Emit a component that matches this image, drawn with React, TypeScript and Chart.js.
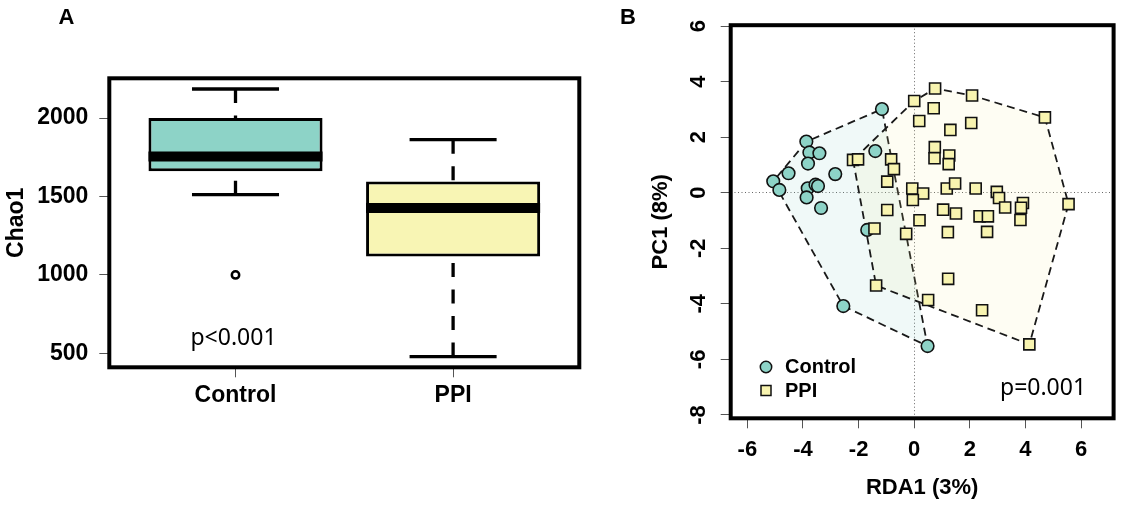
import React, { useEffect, useRef } from 'react';
import { Chart, registerables } from 'chart.js';

Chart.register(...registerables);

const FONT = "'Liberation Sans', Arial, Helvetica, sans-serif";
const PFONT = "'Noto Sans', 'Open Sans', sans-serif";

// ---------- Panel A: Chao1 boxplot ----------
const GROUPS = ['Control', 'PPI'];
const CHAO1_MIN = [1511, 479];
const CHAO1_Q1 = [1660, 1117];
const CHAO1_MEDIAN = [1755, 1426];
const CHAO1_Q3 = [2000, 1596];
const CHAO1_MAX = [2185, 1862];
const CHAO1_OUTLIERS = [[1000], []];
const CHAO1_TICKS = [500, 1000, 1500, 2000];
const CHAO1_RANGE = [410.8, 2253.2];
const GROUP_RANGE = [0.42, 2.58];
const BOX_COLORS = ['#8dd3c7', '#f8f5b4'];

// ---------- Panel B: RDA ordination ----------
const CTRL_X = [-1.16, -3.88, -3.77, -3.41, -3.82, -4.52, -2.84, -5.07, -4.85, -3.83, -3.55, -3.46, -3.87, -3.35, -1.40, -1.69, -2.55, 0.48];
const CTRL_Y = [3.01, 1.84, 1.45, 1.42, 1.05, 0.70, 0.67, 0.41, 0.10, 0.16, 0.29, 0.24, -0.17, -0.55, 1.50, -1.34, -4.08, -5.52];
const PPI_X = [0.75, 2.08, 0.00, 0.70, 4.70, 0.18, 2.05, 1.30, 0.74, 0.73, 1.26, 1.24, -2.20, -2.02, -0.83, -0.73, -0.97, -0.07, 0.32, -0.05, 1.17, 1.47, 2.21, 2.97, 3.05, 3.27, 3.91, 3.84, 3.82, 5.55, -0.97, 1.04, 1.50, 2.35, 2.65, 0.19, -0.29, 1.21, 2.62, -1.43, 1.22, -1.37, 0.50, 2.44, 4.14];
const PPI_Y = [3.75, 3.50, 3.30, 3.04, 2.71, 2.58, 2.51, 2.26, 1.64, 1.24, 1.34, 1.03, 1.18, 1.20, 1.20, 0.85, 0.40, 0.15, -0.03, -0.26, 0.15, 0.33, 0.15, 0.03, -0.19, -0.53, -0.37, -0.54, -0.98, -0.41, -0.62, -0.61, -0.75, -0.85, -0.85, -0.99, -1.48, -1.42, -1.41, -1.29, -3.10, -3.34, -3.86, -4.23, -5.46];
const RDA_TICKS = [-6, -4, -2, 0, 2, 4, 6];
const PC_TICKS = [-8, -6, -4, -2, 0, 2, 4, 6];
const RDA_RANGE = [-6.6, 7.17];
const PC_RANGE = [-8.12, 6.03];
const CTRL_COLOR = '#8dd3c7';
const PPI_COLOR = '#f8f4b0';

type P = { x: number; y: number };

function toPoints(xs: number[], ys: number[]): P[] {
  return xs.map((x, i) => ({ x, y: ys[i] }));
}

function convexHull(xs: number[], ys: number[]): P[] {
  const pts = toPoints(xs, ys).sort((a, b) => a.x - b.x || a.y - b.y);
  const cross = (o: P, a: P, b: P) => (a.x - o.x) * (b.y - o.y) - (a.y - o.y) * (b.x - o.x);
  const lower: P[] = [];
  for (const p of pts) {
    while (lower.length >= 2 && cross(lower[lower.length - 2], lower[lower.length - 1], p) <= 0) lower.pop();
    lower.push(p);
  }
  const upper: P[] = [];
  for (const p of pts.slice().reverse()) {
    while (upper.length >= 2 && cross(upper[upper.length - 2], upper[upper.length - 1], p) <= 0) upper.pop();
    upper.push(p);
  }
  lower.pop();
  upper.pop();
  const hull = lower.concat(upper);
  return [...hull, { ...hull[0] }];
}

const tickFont = (size: number) => ({ family: FONT, size, weight: 'bold' as const });

const boxBorderPlugin = {
  id: 'boxBorder',
  afterDraw(chart: any) {
    const { ctx, chartArea: a } = chart;
    ctx.save();
    ctx.strokeStyle = '#000';
    ctx.lineWidth = 4;
    ctx.lineJoin = 'miter';
    ctx.strokeRect(a.left, a.top, a.right - a.left, a.bottom - a.top);
    ctx.restore();
  },
};

function PanelA() {
  const ref = useRef<HTMLCanvasElement>(null);
  useEffect(() => {
    const datasets: any[] = [];
    GROUPS.forEach((_, i) => {
      const c = i + 1;
      datasets.push({
        type: 'line',
        data: [{ x: c, y: CHAO1_MAX[i] }, { x: c, y: CHAO1_Q3[i] }],
        borderColor: '#000', borderWidth: 3.3, borderDash: [14, 12.5], borderCapStyle: 'butt',
        pointRadius: 0, fill: false, order: 5,
      });
      datasets.push({
        type: 'line',
        data: [{ x: c, y: CHAO1_MIN[i] }, { x: c, y: CHAO1_Q1[i] }],
        borderColor: '#000', borderWidth: 3.3, borderDash: [14, 12.5], borderCapStyle: 'butt',
        pointRadius: 0, fill: false, order: 5,
      });
      datasets.push({
        type: 'line',
        data: [{ x: c - 0.2, y: CHAO1_MAX[i] }, { x: c + 0.2, y: CHAO1_MAX[i] }],
        borderColor: '#000', borderWidth: 3.3, borderCapStyle: 'butt', pointRadius: 0, fill: false, order: 5,
      });
      datasets.push({
        type: 'line',
        data: [{ x: c - 0.2, y: CHAO1_MIN[i] }, { x: c + 0.2, y: CHAO1_MIN[i] }],
        borderColor: '#000', borderWidth: 3.3, borderCapStyle: 'butt', pointRadius: 0, fill: false, order: 5,
      });
      datasets.push({
        type: 'line',
        data: [{ x: c - 0.4, y: CHAO1_MEDIAN[i] }, { x: c + 0.4, y: CHAO1_MEDIAN[i] }],
        borderColor: '#000', borderWidth: 10, borderCapStyle: 'butt', pointRadius: 0, fill: false, order: 0,
      });
    });
    datasets.push({
      type: 'bar',
      data: GROUPS.map((_, i) => ({ x: i + 1, y: [CHAO1_Q1[i], CHAO1_Q3[i]] })),
      backgroundColor: BOX_COLORS,
      borderColor: '#000',
      borderWidth: 3,
      borderSkipped: false,
      categoryPercentage: 0.8,
      barPercentage: 1.0,
      order: 2,
    });
    datasets.push({
      type: 'scatter',
      data: CHAO1_OUTLIERS.flatMap((vals, i) => vals.map((v) => ({ x: i + 1, y: v }))),
      pointStyle: 'circle', pointRadius: 3.7, borderWidth: 2.5,
      borderColor: '#000', backgroundColor: '#fff', order: 1,
    });

    const annot = {
      id: 'annotA',
      afterDraw(chart: any) {
        const { ctx } = chart;
        ctx.save();
        ctx.fillStyle = '#000';
        ctx.textAlign = 'center';
        ctx.textBaseline = 'alphabetic';
        ctx.font = `bold 22px ${FONT}`;
        ctx.fillText('A', 66.5, 24);
        ctx.font = `23px ${PFONT}`;
        ctx.fillText('p<0.001', chart.scales.x.getPixelForValue(1) - 2, 345);
        ctx.restore();
      },
    };

    const chart = new Chart(ref.current!, {
      type: 'scatter',
      data: { datasets },
      options: {
        animation: false,
        responsive: false,
        events: [],
        layout: { padding: { left: 0, top: 78.3, right: 20.7, bottom: 0 } },
        plugins: { legend: { display: false }, tooltip: { enabled: false } },
        scales: {
          x: {
            type: 'linear',
            offset: false,
            min: GROUP_RANGE[0],
            max: GROUP_RANGE[1],
            afterBuildTicks: (s: any) => { s.ticks = GROUPS.map((_, i) => ({ value: i + 1 })); },
            afterFit: (s: any) => { s.height = 505 - 367.3; },
            ticks: {
              callback: (v: any) => GROUPS[Math.round(v) - 1] ?? '',
              font: tickFont(23), color: '#000', padding: 5, maxRotation: 0, autoSkip: false,
            },
            grid: { offset: false, drawOnChartArea: false, drawTicks: true, tickLength: 10, tickColor: '#555', tickWidth: 1 },
            border: { display: false },
          },
          y: {
            type: 'linear',
            min: CHAO1_RANGE[0],
            max: CHAO1_RANGE[1],
            afterBuildTicks: (s: any) => { s.ticks = CHAO1_TICKS.map((v) => ({ value: v })); },
            afterFit: (s: any) => { s.width = 109.3; },
            ticks: { callback: (v: any) => String(v), font: tickFont(23), color: '#000', padding: 11, autoSkip: false },
            grid: { drawOnChartArea: false, drawTicks: true, tickLength: 10, tickColor: '#555', tickWidth: 1 },
            border: { display: false },
            title: { display: true, text: 'Chao1', font: tickFont(23), color: '#000', padding: { top: 3, bottom: 0 } },
          },
        },
      } as any,
      plugins: [boxBorderPlugin, annot],
    });
    return () => chart.destroy();
  }, []);
  return (
    <canvas ref={ref} width={600} height={505}
      style={{ position: 'absolute', left: 0, top: 0, width: 600, height: 505 }} />
  );
}

function PanelB() {
  const ref = useRef<HTMLCanvasElement>(null);
  useEffect(() => {
    const ctrlPts = toPoints(CTRL_X, CTRL_Y);
    const ppiPts = toPoints(PPI_X, PPI_Y);
    const datasets: any[] = [
      {
        type: 'line', data: convexHull(CTRL_X, CTRL_Y),
        borderColor: '#1a1a1a', borderWidth: 1.8, borderDash: [8, 5], tension: 0,
        fill: 'shape', backgroundColor: 'rgba(141,211,199,0.13)', pointRadius: 0, order: 4,
      },
      {
        type: 'line', data: convexHull(PPI_X, PPI_Y),
        borderColor: '#1a1a1a', borderWidth: 1.8, borderDash: [8, 5], tension: 0,
        fill: 'shape', backgroundColor: 'rgba(250,240,160,0.12)', pointRadius: 0, order: 3,
      },
      {
        type: 'scatter', data: ctrlPts, pointStyle: 'circle', pointRadius: 6.3,
        backgroundColor: CTRL_COLOR, borderColor: '#111', borderWidth: 1.6, order: 2,
      },
      {
        type: 'scatter', data: ppiPts, pointStyle: 'rect', pointRadius: 7.8,
        backgroundColor: PPI_COLOR, borderColor: '#111', borderWidth: 1.6, order: 1,
      },
    ];

    const annot = {
      id: 'annotB',
      afterDraw(chart: any) {
        const { ctx } = chart;
        ctx.save();
        ctx.fillStyle = '#000';
        ctx.textAlign = 'center';
        ctx.textBaseline = 'alphabetic';
        ctx.font = `bold 22px ${FONT}`;
        ctx.fillText('B', 28, 24);
        // legend
        ctx.lineWidth = 1.5;
        ctx.strokeStyle = '#111';
        ctx.beginPath();
        ctx.arc(166, 367, 5.7, 0, Math.PI * 2);
        ctx.fillStyle = CTRL_COLOR;
        ctx.fill();
        ctx.stroke();
        ctx.fillStyle = PPI_COLOR;
        ctx.fillRect(161, 385.5, 10, 10);
        ctx.strokeRect(161, 385.5, 10, 10);
        ctx.fillStyle = '#000';
        ctx.textAlign = 'left';
        ctx.textBaseline = 'middle';
        ctx.font = `bold 20px ${FONT}`;
        ctx.fillText(GROUPS[0], 185, 367);
        ctx.fillText(GROUPS[1], 185, 391);
        ctx.textBaseline = 'alphabetic';
        ctx.font = `23px ${PFONT}`;
        ctx.fillText('p=0.001', 400, 395);
        ctx.restore();
      },
    };

    const zeroGrid = (c: any) => (c.tick && c.tick.value === 0 ? '#666' : 'rgba(0,0,0,0)');

    const chart = new Chart(ref.current!, {
      type: 'scatter',
      data: { datasets },
      options: {
        animation: false,
        responsive: false,
        events: [],
        layout: { padding: { left: 0, top: 19.3, right: 4, bottom: 0 } },
        plugins: { legend: { display: false }, tooltip: { enabled: false } },
        scales: {
          x: {
            type: 'linear',
            min: RDA_RANGE[0],
            max: RDA_RANGE[1],
            afterBuildTicks: (s: any) => { s.ticks = RDA_TICKS.map((v) => ({ value: v })); },
            afterFit: (s: any) => { s.height = 505 - 418.3; },
            ticks: { font: tickFont(22), color: '#000', padding: 8, maxRotation: 0, autoSkip: false },
            grid: {
              color: zeroGrid, lineWidth: 1, drawOnChartArea: true, drawTicks: true,
              tickLength: 10, tickColor: '#555', tickWidth: 1, tickBorderDash: [100, 0],
            },
            border: { display: false, dash: [1, 2.5] },
            title: { display: true, text: 'RDA1 (3%)', font: tickFont(22), color: '#000', padding: { top: 0, bottom: 4 } },
          },
          y: {
            type: 'linear',
            min: PC_RANGE[0],
            max: PC_RANGE[1],
            afterBuildTicks: (s: any) => { s.ticks = PC_TICKS.map((v) => ({ value: v })); },
            afterFit: (s: any) => { s.width = 130.7; },
            ticks: {
              font: tickFont(22), color: '#000', padding: 12, autoSkip: false,
              minRotation: 90, maxRotation: 90, crossAlign: 'center',
            },
            grid: {
              color: zeroGrid, lineWidth: 1, drawOnChartArea: true, drawTicks: true,
              tickLength: 10, tickColor: '#555', tickWidth: 1, tickBorderDash: [100, 0],
            },
            border: { display: false, dash: [1, 2.5] },
            title: { display: true, text: 'PC1 (8%)', font: tickFont(22), color: '#000', padding: { top: 48, bottom: 0 } },
          },
        },
      } as any,
      plugins: [boxBorderPlugin, annot],
    });
    return () => chart.destroy();
  }, []);
  return (
    <canvas ref={ref} width={523} height={505}
      style={{ position: 'absolute', left: 600, top: 0, width: 523, height: 505 }} />
  );
}

export default function App() {
  return (
    <div style={{ position: 'absolute', left: 0, top: 0, width: 1123, height: 505, background: '#fff' }}>
      <PanelA />
      <PanelB />
    </div>
  );
}
